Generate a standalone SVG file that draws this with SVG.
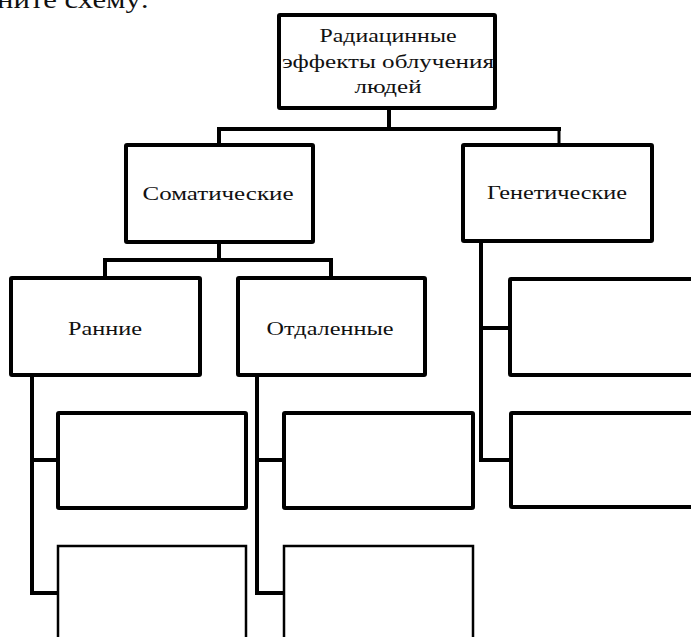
<svg xmlns="http://www.w3.org/2000/svg" width="691" height="637" viewBox="0 0 691 637">
<style>
.box{fill:#fff;stroke:#000;stroke-width:4}
.box2{fill:#fff;stroke:#000;stroke-width:2.5}
.ln{fill:none;stroke:#000;stroke-width:4;stroke-linejoin:miter;stroke-linecap:square}
.t{font-family:"Liberation Serif","Times New Roman",serif;font-size:19px;fill:#111}
</style>
<rect width="691" height="637" fill="#fff"/>
<text class="t" x="-3" y="8" style="font-size:26px" textLength="152" lengthAdjust="spacingAndGlyphs">ните схему:</text>
<g id="connectors">
<path class="ln" d="M389 108V129M219 129H559M219 129V145"/>
<path class="ln" d="M559 129V145" style="stroke-width:3"/>
<path class="ln" d="M219 242V260M105 260H331M105 260V278M331 260V278"/>
<path class="ln" d="M481 241V460H510M481 328H510"/>
<path class="ln" d="M32 375V593H58M32 460H58"/>
<path class="ln" d="M257 375V593H284M257 460H284"/>
</g>
<g id="n-root">
<rect class="box" x="279" y="15" width="216" height="93" rx="1"/>
<text class="t" x="388" y="42" text-anchor="middle" textLength="137" lengthAdjust="spacingAndGlyphs">Радиацинные</text>
<text class="t" x="388" y="68" text-anchor="middle" textLength="212" lengthAdjust="spacingAndGlyphs">эффекты облучения</text>
<text class="t" x="388" y="93" text-anchor="middle" textLength="67" lengthAdjust="spacingAndGlyphs">людей</text>
</g>
<g id="n-somatic">
<rect class="box" x="126" y="145" width="187" height="97" rx="1"/>
<text class="t" x="218" y="200" text-anchor="middle" textLength="151" lengthAdjust="spacingAndGlyphs">Соматические</text>
</g>
<g id="n-genetic">
<rect class="box" x="463" y="145" width="189" height="96" rx="1"/>
<text class="t" x="557" y="199" text-anchor="middle" textLength="140" lengthAdjust="spacingAndGlyphs">Генетические</text>
</g>
<g id="n-early">
<rect class="box" x="11" y="278" width="189" height="97" rx="1"/>
<text class="t" x="105" y="335" text-anchor="middle" textLength="74" lengthAdjust="spacingAndGlyphs">Ранние</text>
</g>
<g id="n-late">
<rect class="box" x="238" y="278" width="187" height="97" rx="1"/>
<text class="t" x="330" y="335" text-anchor="middle" textLength="127" lengthAdjust="spacingAndGlyphs">Отдаленные</text>
</g>
<g id="n-gen1"><rect class="box" x="510" y="279" width="200" height="96" rx="1"/></g>
<g id="n-gen2"><rect class="box" x="511" y="413" width="200" height="94" rx="1"/></g>
<g id="n-early1"><rect class="box" x="58" y="413" width="188" height="95" rx="1"/></g>
<g id="n-late1"><rect class="box" x="284" y="413" width="189" height="95" rx="1"/></g>
<g id="n-early2"><rect class="box2" x="58" y="546" width="188" height="110"/></g>
<g id="n-late2"><rect class="box2" x="284" y="546" width="189" height="110"/></g>
</svg>
